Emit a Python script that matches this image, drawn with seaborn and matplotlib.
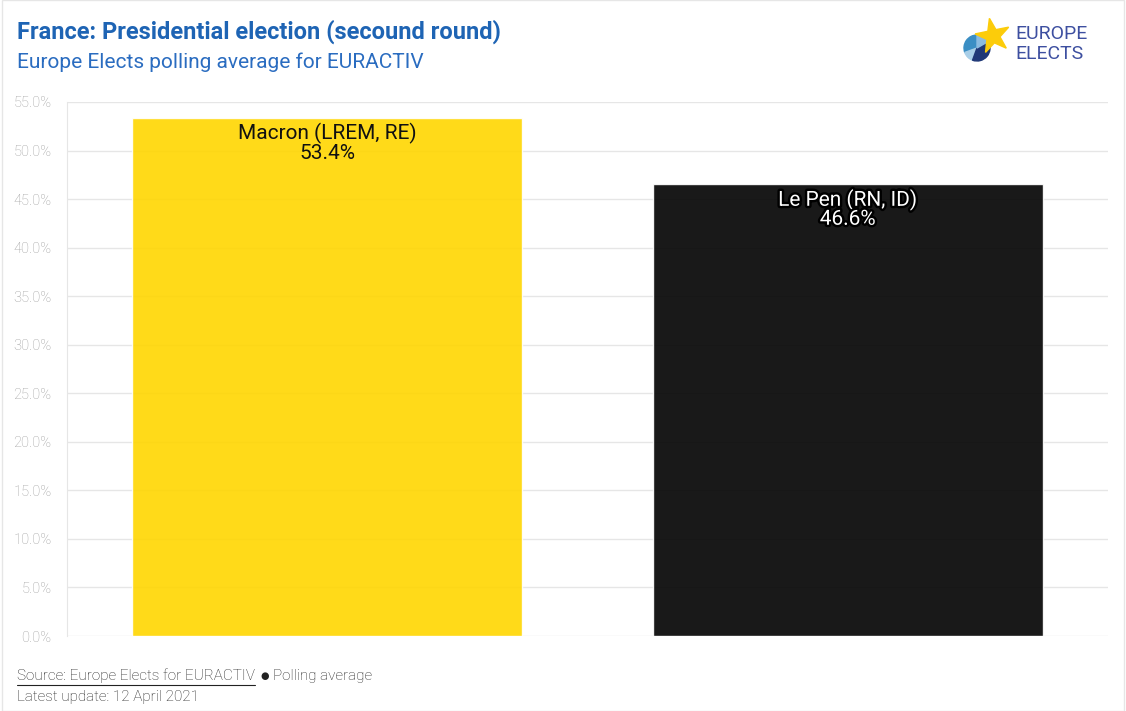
import matplotlib
matplotlib.use("Agg")
import matplotlib.pyplot as plt
import matplotlib.patheffects as pe
from matplotlib.patches import Wedge, Rectangle
from matplotlib.ticker import FuncFormatter
import numpy as np
import pandas as pd
import seaborn as sns

# data
candidates = ["Macron (LREM, RE)", "Le Pen (RN, ID)"]
shares = [53.4, 46.6]
bar_colors = ["#ffd600", "#000000"]
label_colors = ["#111111", "#ffffff"]

df = pd.DataFrame({"candidate": candidates, "share": shares})

sns.set_style("white")
plt.rcParams["font.family"] = ["Roboto", "DejaVu Sans"]

W, H = 1126, 711
fig = plt.figure(figsize=(W / 100, H / 100), dpi=100)
ax = fig.add_axes([67 / W, 1 - 636 / H, (1108 - 67) / W, (636 - 102) / H])

sns.barplot(data=df, x="candidate", y="share", hue="candidate",
            palette=bar_colors, width=0.75, legend=False, ax=ax,
            saturation=1)
for p in ax.patches:
    p.set_alpha(0.9)

ax.set_ylim(0, 55)
ax.set_xlim(-0.5, 1.5)
ax.set_yticks(np.arange(0, 56, 5))
ax.yaxis.set_major_formatter(FuncFormatter(lambda v, _: f"{v:.1f}%"))
ax.grid(axis="y", color="#e6e6e6", linewidth=1)
ax.set_axisbelow(True)
ax.set_xticks([])
ax.set_xlabel("")
ax.set_ylabel("")
for s in ["top", "right", "bottom"]:
    ax.spines[s].set_visible(False)
ax.spines["left"].set_color("#e6e6e6")
ax.tick_params(axis="y", length=9, width=1, color="#e6e6e6",
               labelsize=10.5, labelcolor="#a0a0a0", pad=2)
for t in ax.get_yticklabels():
    t.set_fontweight("light")

for i, (name, val) in enumerate(zip(candidates, shares)):
    effects = []
    if label_colors[i] == "#ffffff":
        effects = [pe.withStroke(linewidth=3.5, foreground="black")]
    ax.text(i, val - 0.6, f"{name}\n{val:.1f}%", ha="center", va="top",
            fontsize=15, color=label_colors[i], linespacing=0.95,
            path_effects=effects)

# title block
fig.text(17 / W, 1 - 32 / H, "France: Presidential election (secound round)",
         fontsize=17, fontweight="bold", color="#1e64b4", va="center")
fig.text(17 / W, 1 - 62 / H, "Europe Elects polling average for EURACTIV",
         fontsize=15, color="#2a6cc0", va="center")

# footer
src = fig.text(17 / W, 1 - 676 / H, "Source: Europe Elects for EURACTIV",
               fontsize=11, color="#222222", va="center", fontweight="light")
renderer = fig.canvas.get_renderer()
bb = src.get_window_extent(renderer)
x_end = bb.x1 / W
fig.text(x_end + 5 / W, 1 - 676 / H, "\u25CF", fontsize=7,
         color="#222222", va="center")
fig.text(x_end + 18 / W, 1 - 676 / H, "Polling average",
         fontsize=11, color="#222222", va="center", fontweight="light")
fig.add_artist(plt.Line2D([17 / W, x_end], [1 - 685 / H] * 2,
                          color="#222222", linewidth=0.8))
fig.text(17 / W, 1 - 697 / H, "Latest update: 12 April 2021",
         fontsize=11, color="#222222", va="center", fontweight="light")

# logo
lax = fig.add_axes([955 / W, 1 - 70 / H, 60 / W, 60 / H])
lax.set_xlim(0, 60)
lax.set_ylim(0, 60)
lax.set_aspect("equal")
lax.axis("off")
cx, cy, r = 22, 22, 13
for a1, a2, c in [(90, 200, "#3a8ec4"), (200, 250, "#a9cfe8"),
                  (250, 30, "#1f3877"), (30, 90, "#8bbbe0")]:
    lax.add_patch(Wedge((cx, cy), r, a1, a2, color=c))
star_pts = []
for k in range(10):
    ang = np.pi / 2 + 0.2 + k * np.pi / 5
    rad = 18 if k % 2 == 0 else 7
    star_pts.append((38 + rad * np.cos(ang), 34 + rad * np.sin(ang)))
lax.add_patch(plt.Polygon(star_pts, color="#fccc0a"))
fig.text(1015 / W, 1 - 34 / H, "EUROPE", fontsize=14, color="#3d4fa0",
         va="center")
fig.text(1015 / W, 1 - 54 / H, "ELECTS", fontsize=14, color="#3d4fa0",
         va="center")

# outer frame
fig.add_artist(Rectangle((2 / W, 0), 1 - 4 / W, 1, fill=False,
                         edgecolor="#e6e6e6", linewidth=1,
                         transform=fig.transFigure))

fig.savefig("out.png", dpi=100)
